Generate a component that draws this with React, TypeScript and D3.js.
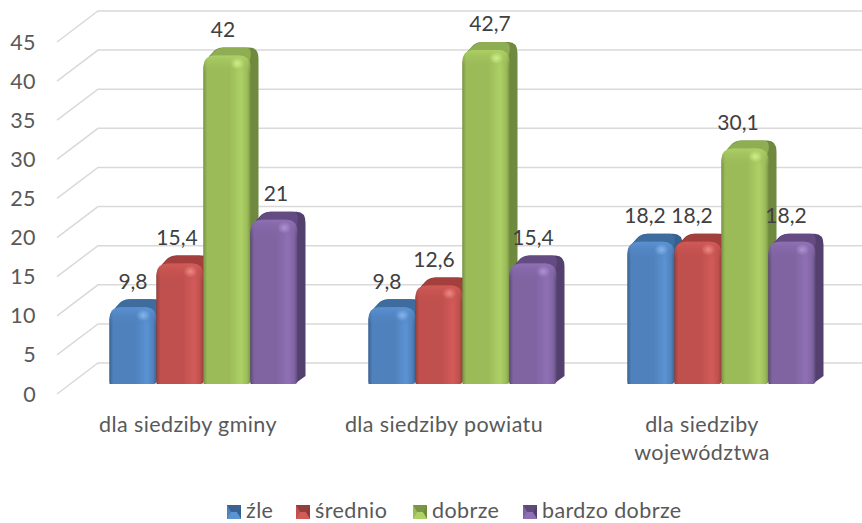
import React from "react";
import * as d3 from "d3";

const categories = ["dla siedziby gminy", "dla siedziby powiatu", "dla siedziby województwa"];
const seriesNames = ["źle", "średnio", "dobrze", "bardzo dobrze"];
const zle = [9.8, 9.8, 18.2];
const srednio = [15.4, 12.6, 18.2];
const dobrze = [42, 42.7, 30.1];
const bardzoDobrze = [21, 15.4, 18.2];
const labelsZle = ["9,8", "9,8", "18,2"];
const labelsSrednio = ["15,4", "12,6", "18,2"];
const labelsDobrze = ["42", "42,7", "30,1"];
const labelsBardzo = ["21", "15,4", "18,2"];
const yTicks = [0, 5, 10, 15, 20, 25, 30, 35, 40, 45];

const series = [zle, srednio, dobrze, bardzoDobrze];
const seriesLabels = [labelsZle, labelsSrednio, labelsDobrze, labelsBardzo];
const palette = [
  { main: "#4F81BD", light: "#5B93D3", dark: "#3A6391", side: "#38608F", cap: "#3F6C9F", spot: "#86B4EA" },
  { main: "#C0504D", light: "#D25B58", dark: "#93403D", side: "#8C3B39", cap: "#A33F3D", spot: "#EE8886" },
  { main: "#9BBB59", light: "#ADD166", dark: "#7A9546", side: "#6F8A3E", cap: "#8FAD52", spot: "#CFEE8C" },
  { main: "#8064A2", light: "#8F70B5", dark: "#5F4B7A", side: "#54406E", cap: "#644C82", spot: "#AE92D2" },
];
const FONT = "Lato, 'Open Sans', sans-serif";
const TXT = "#595959";

const gridLeft = 57, gridBack = 98, gridRight = 862, depthY = 31;
const yBack = d3.scaleLinear().domain([0, 45]).range([363, 11]);
const groupX = d3.scaleBand<number>().domain([0, 1, 2]).range([75, 852]);
const BAR = 47, D = 8;
const barBase = 384;
const barH = (v: number) => yBack(0) - yBack(v);
const labelNudge = [[0, -3, -4, 2], [-5, -5, 4, 0], [-6, -6, -7, -6]];

function front(x: number, top: number, w: number, bottom: number, r: number) {
  return `M${x},${bottom - 3} V${top + r} Q${x},${top} ${x + r},${top} H${x + w - r} Q${x + w},${top} ${x + w},${top + r} V${bottom - 3} Q${x + w},${bottom} ${x + w - 3},${bottom} H${x + 3} Q${x},${bottom} ${x},${bottom - 3} Z`;
}

function silhouette(x: number, top: number, w: number, bottom: number) {
  const xr = x + w + D;
  return `M${x},${top + 12} Q${x + 1},${top + 5} ${x + 9},${top - 3} Q${x + 13},${top - D} ${x + 20},${top - D} H${xr - 9} Q${xr},${top - D} ${xr},${top + 3} V${bottom - D} L${x + w - 3},${bottom} H${x} Z`;
}

const textProps = { fill: TXT, fontSize: 21.5, letterSpacing: 0.4 };

export default function App() {
  const bw = groupX.bandwidth();
  return (
    <svg width={862} height={523} style={{ position: "absolute", left: 0, top: 0, background: "#fff" }} fontFamily={FONT}>
      <defs>
        {palette.map((p, i) => (
          <React.Fragment key={i}>
            <linearGradient id={`g${i}`} x1="0" x2="1" y1="0" y2="0">
              <stop offset="0" stopColor={p.dark} />
              <stop offset="0.08" stopColor={p.main} />
              <stop offset="0.55" stopColor={p.main} />
              <stop offset="0.8" stopColor={p.light} />
              <stop offset="0.93" stopColor={p.main} />
              <stop offset="1" stopColor={p.dark} />
            </linearGradient>
            <linearGradient id={`t${i}`} x1="0" x2="0" y1="0" y2="1">
              <stop offset="0" stopColor={p.light} stopOpacity="0.9" />
              <stop offset="1" stopColor={p.main} stopOpacity="0" />
            </linearGradient>
            <radialGradient id={`s${i}`}>
              <stop offset="0" stopColor={p.spot} />
              <stop offset="1" stopColor={p.spot} stopOpacity="0" />
            </radialGradient>
          </React.Fragment>
        ))}
      </defs>
      {yTicks.map((t) => (
        <g key={t}>
          <path
            d={`M${gridLeft},${yBack(t) + depthY} L${gridBack},${yBack(t)} H${gridRight}`}
            fill="none" stroke="#D9D9D9" strokeWidth={1.5}
          />
          <text x={36} y={yBack(t) + depthY} dy="0.35em" textAnchor="end" {...textProps}>{t}</text>
        </g>
      ))}
      {categories.map((_, c) =>
        series.map((s, i) => {
          const x = (groupX(c) as number) + bw / 2 - 2 * BAR + i * BAR - 1;
          const top = barBase - barH(s[c]);
          const p = palette[i];
          return (
            <g key={`${c}-${i}`}>
              <path d={silhouette(x, top, BAR, barBase)} fill={p.side} />
              <path d={`M${x + 5},${top + 2} Q${x + 13},${top - D} ${x + 20},${top - D} H${x + BAR - 5} Q${x + BAR + 3},${top - D} ${x + BAR - 1},${top + 6} Z`} fill={p.cap} />
              <path d={front(x, top, BAR, barBase, 12)} fill={`url(#g${i})`} />
              <path d={front(x, top, BAR, top + 18, 12)} fill={`url(#t${i})`} />
              <ellipse cx={x + BAR * 0.72} cy={top + 8} rx={7} ry={6} fill={`url(#s${i})`} />
            </g>
          );
        })
      )}
      {categories.map((_, c) =>
        series.map((s, i) => {
          const x = (groupX(c) as number) + bw / 2 - 2 * BAR + i * BAR - 1;
          return (
            <text key={`${c}-${i}`} x={x + BAR / 2 + labelNudge[c][i]} y={barBase - barH(s[c]) - 26} dy="0.35em"
              textAnchor="middle" fontSize={21} fill="#404040">{seriesLabels[i][c]}</text>
          );
        })
      )}
      <text x={188} y={424} dy="0.35em" textAnchor="middle" {...textProps}>{categories[0]}</text>
      <text x={444} y={424} dy="0.35em" textAnchor="middle" {...textProps}>{categories[1]}</text>
      <text x={702} y={424} dy="0.35em" textAnchor="middle" {...textProps}>dla siedziby</text>
      <text x={702} y={452} dy="0.35em" textAnchor="middle" {...textProps}>województwa</text>
      {seriesNames.map((n, i) => {
        const lx = [227, 296, 413, 523][i];
        const p = palette[i];
        const S = 14, y0 = 505;
        return (
          <g key={n}>
            <rect x={lx} y={y0} width={S} height={S} fill={p.main} />
            <path d={`M${lx},${y0} H${lx + S} L${lx + S * 0.7},${y0 + S / 2} H${lx + S * 0.3} Z`} fill={p.dark} />
            <path d={`M${lx + S},${y0} V${y0 + S} L${lx + S * 0.7},${y0 + S / 2} Z`} fill={p.side} />
            <path d={`M${lx},${y0 + S} H${lx + S} L${lx + S * 0.7},${y0 + S / 2} H${lx + S * 0.3} Z`} fill={p.light} />
            <text x={lx + S + 5} y={y0 + 5} dy="0.35em" {...textProps}>{n}</text>
          </g>
        );
      })}
    </svg>
  );
}
